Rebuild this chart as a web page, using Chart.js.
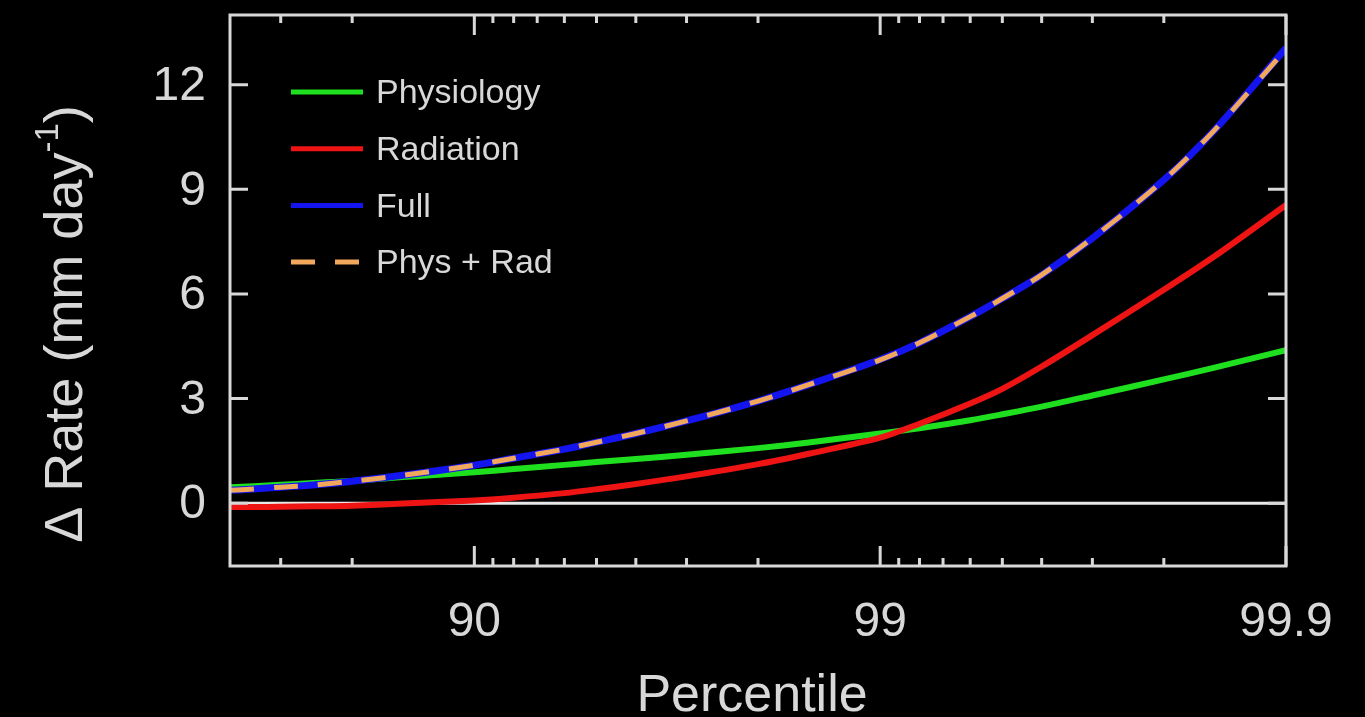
<!DOCTYPE html>
<html>
<head>
<meta charset="utf-8">
<script src="https://cdn.jsdelivr.net/npm/chart.js@4.4.1/dist/chart.umd.min.js"></script>
<style>
  html, body { margin: 0; padding: 0; background: #000; overflow: hidden; }
  canvas { display: block; }
</style>
</head>
<body>
<canvas id="chart" width="1365" height="717"></canvas>
<script>
// Percentile positions at which each curve is sampled
const percentiles = [60, 65, 70, 75, 80, 85, 90, 92, 94, 95, 96, 97, 98, 98.5, 99, 99.2, 99.4, 99.5, 99.6, 99.7, 99.8, 99.85, 99.9];

// Change in precipitation rate (mm day^-1)
const physiology  = [0.46, 0.49, 0.53, 0.58, 0.64, 0.75, 0.89, 0.98, 1.10, 1.18, 1.27, 1.39, 1.58, 1.74, 2.00, 2.15, 2.38, 2.55, 2.77, 3.09, 3.55, 3.89, 4.39];
const radiation   = [-0.11, -0.11, -0.10, -0.09, -0.07, -0.01, 0.08, 0.16, 0.29, 0.40, 0.55, 0.77, 1.12, 1.42, 1.88, 2.28, 2.86, 3.28, 3.92, 4.82, 6.12, 7.08, 8.55];
const full        = [0.37, 0.41, 0.46, 0.52, 0.63, 0.80, 1.09, 1.29, 1.55, 1.75, 2.00, 2.36, 2.93, 3.40, 4.12, 4.60, 5.35, 5.87, 6.55, 7.60, 9.27, 10.70, 13.05];
const physPlusRad = [0.37, 0.41, 0.46, 0.52, 0.63, 0.80, 1.09, 1.29, 1.55, 1.75, 2.00, 2.36, 2.93, 3.40, 4.11, 4.60, 5.35, 5.87, 6.55, 7.60, 9.27, 10.70, 13.02];

// Axis ticks
const xMajorTicks = [90, 99, 99.9];
const xMinorTicks = [70, 80, 91, 92, 93, 94, 95, 96, 97, 98, 99.1, 99.2, 99.3, 99.4, 99.5, 99.6, 99.7, 99.8];
const yTicks = [0, 3, 6, 9, 12];

const seriesLabels = ['Physiology', 'Radiation', 'Full', 'Phys + Rad'];

// The x axis is logarithmic in the exceedance probability (100 - percentile), reversed
const toExceed = p => +(100 - p).toFixed(4);
const pts = vals => percentiles.map((p, i) => ({ x: toExceed(p), y: vals[i] }));

const FG = '#d8d8d8';
const FONT = '"Liberation Sans", Arial, Helvetica, sans-serif';

const background = {
  id: 'background',
  beforeDraw(chart) {
    const ctx = chart.ctx;
    ctx.save();
    ctx.fillStyle = '#000';
    ctx.fillRect(0, 0, chart.width, chart.height);
    ctx.restore();
  }
};

const zeroLine = {
  id: 'zeroLine',
  beforeDatasetsDraw(chart) {
    const { ctx, chartArea: a, scales: { y } } = chart;
    const py = y.getPixelForValue(0);
    ctx.save();
    ctx.strokeStyle = '#e8e8e8';
    ctx.lineWidth = 3;
    ctx.beginPath();
    ctx.moveTo(a.left, py);
    ctx.lineTo(a.right, py);
    ctx.stroke();
    ctx.restore();
  }
};

const frame = {
  id: 'frame',
  afterDatasetsDraw(chart) {
    const { ctx, chartArea: a, scales: { x, y } } = chart;
    ctx.save();
    ctx.strokeStyle = FG;
    ctx.lineWidth = 3;
    ctx.strokeRect(a.left, a.top, a.right - a.left, a.bottom - a.top);

    // inward ticks on top and bottom
    const tick = (p, len) => {
      const px = x.getPixelForValue(toExceed(p));
      ctx.beginPath();
      ctx.moveTo(px, a.bottom); ctx.lineTo(px, a.bottom - len);
      ctx.moveTo(px, a.top); ctx.lineTo(px, a.top + len);
      ctx.stroke();
    };
    xMinorTicks.forEach(p => tick(p, 8));
    xMajorTicks.forEach(p => tick(p, 20));

    // inward ticks on left and right
    yTicks.forEach(v => {
      const py = y.getPixelForValue(v);
      ctx.beginPath();
      ctx.moveTo(a.left, py); ctx.lineTo(a.left + 18, py);
      ctx.moveTo(a.right, py); ctx.lineTo(a.right - 18, py);
      ctx.stroke();
    });

    // tick labels
    ctx.fillStyle = FG;
    ctx.font = '48px ' + FONT;
    ctx.textAlign = 'right';
    ctx.textBaseline = 'middle';
    yTicks.forEach(v => ctx.fillText(String(v), 206, y.getPixelForValue(v) + 2));
    ctx.textAlign = 'center';
    xMajorTicks.forEach(p => ctx.fillText(String(p), x.getPixelForValue(toExceed(p)), 623));

    // axis titles
    ctx.font = '52px ' + FONT;
    ctx.textBaseline = 'alphabetic';
    ctx.fillText('Percentile', (a.left + a.right) / 2 - 6, 711);

    ctx.save();
    ctx.translate(82, 324);
    ctx.rotate(-Math.PI / 2);
    const main = '\u0394 Rate (mm day';
    const sup = '-1';
    const close = ')';
    ctx.font = '54px ' + FONT;
    const wMain = ctx.measureText(main).width;
    const wClose = ctx.measureText(close).width;
    ctx.font = '33px ' + FONT;
    const wSup = ctx.measureText(sup).width;
    let cx = -(wMain + wSup + wClose) / 2;
    ctx.textAlign = 'left';
    ctx.font = '54px ' + FONT;
    ctx.fillText(main, cx, 0); cx += wMain;
    ctx.font = '33px ' + FONT;
    ctx.fillText(sup, cx, -24); cx += wSup;
    ctx.font = '54px ' + FONT;
    ctx.fillText(close, cx, 0);
    ctx.restore();

    ctx.restore();
  }
};

const legendBox = {
  id: 'legendBox',
  afterDraw(chart) {
    const ctx = chart.ctx;
    ctx.save();
    ctx.font = '34px ' + FONT;
    ctx.textBaseline = 'middle';
    ctx.textAlign = 'left';
    chart.data.datasets.forEach((ds, i) => {
      const ly = 92 + i * 56.7;
      ctx.strokeStyle = ds.borderColor;
      ctx.lineWidth = 5;
      ctx.setLineDash(ds.borderDash || []);
      ctx.beginPath();
      ctx.moveTo(291, ly);
      ctx.lineTo(363, ly);
      ctx.stroke();
      ctx.setLineDash([]);
      ctx.fillStyle = FG;
      ctx.fillText(ds.label, 376, ly + 2);
    });
    ctx.restore();
  }
};

const lineDs = (label, vals, color, width, order, dash) => ({
  label,
  data: pts(vals),
  borderColor: color,
  borderWidth: width,
  borderDash: dash,
  order,
  pointRadius: 0,
  fill: false,
  tension: 0.3
});

new Chart(document.getElementById('chart'), {
  type: 'line',
  data: {
    datasets: [
      lineDs(seriesLabels[0], physiology, '#1fe01f', 6, 4),
      lineDs(seriesLabels[1], radiation, '#ee1414', 6, 3),
      lineDs(seriesLabels[2], full, '#1414ee', 7, 2),
      lineDs(seriesLabels[3], physPlusRad, '#f2a85c', 5, 1, [24, 20])
    ]
  },
  options: {
    responsive: false,
    animation: false,
    devicePixelRatio: 1,
    layout: { padding: { left: 230, top: 15, right: 79, bottom: 151 } },
    plugins: { legend: { display: false }, tooltip: { enabled: false } },
    scales: {
      x: { type: 'logarithmic', min: 0.1, max: 40, reverse: true, display: false },
      y: { type: 'linear', min: -1.8, max: 14, display: false }
    }
  },
  plugins: [background, zeroLine, frame, legendBox]
});
</script>
</body>
</html>
